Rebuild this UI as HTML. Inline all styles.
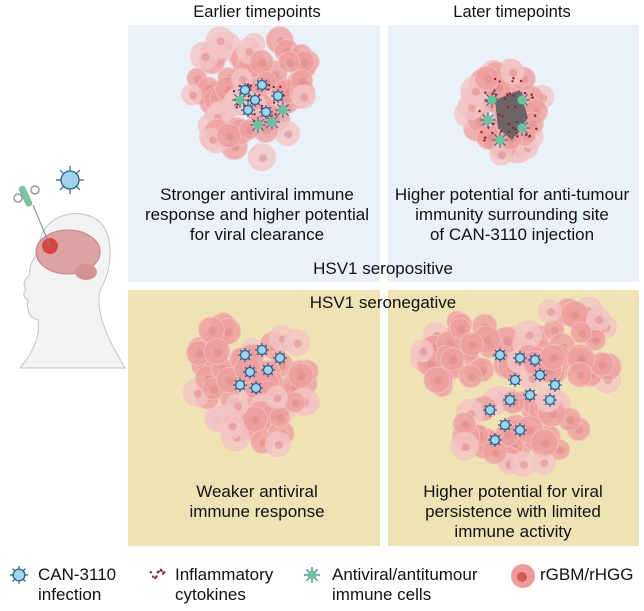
<!DOCTYPE html>
<html><head><meta charset="utf-8"><style>
body{margin:0;background:#fff;width:644px;height:606px;overflow:hidden;font-family:"Liberation Sans",sans-serif}
svg text{font-family:"Liberation Sans",sans-serif;fill:#111}
</style></head><body>
<svg id="s" width="644" height="606" xmlns="http://www.w3.org/2000/svg">
<rect x="128" y="25" width="252" height="257" fill="#ebf1f9"/>
<rect x="388" y="25" width="251" height="257" fill="#ebf1f9"/>
<rect x="128" y="290" width="252" height="256" fill="#efe3b6"/>
<rect x="388" y="290" width="251" height="256" fill="#efe3b6"/>
<g id="tum"></g>
<g font-size="16.5" text-anchor="middle">
<text x="257" y="17">Earlier timepoints</text>
<text x="512" y="17">Later timepoints</text>
</g>
<g font-size="17" text-anchor="middle">
<text x="257" y="200">Stronger antiviral immune</text>
<text x="257" y="220">response and higher potential</text>
<text x="257" y="240">for viral clearance</text>
<text x="512" y="200">Higher potential for anti-tumour</text>
<text x="512" y="220">immunity surrounding site</text>
<text x="512" y="240">of CAN-3110 injection</text>
<text x="383" y="274">HSV1 seropositive</text>
<text x="383" y="308">HSV1 seronegative</text>
<text x="257" y="497">Weaker antiviral</text>
<text x="257" y="517">immune response</text>
<text x="513" y="497">Higher potential for viral</text>
<text x="513" y="517">persistence with limited</text>
<text x="513" y="537">immune activity</text>
</g>
<g font-size="17">
<text x="38" y="580">CAN-3110</text><text x="38" y="600">infection</text>
<text x="175" y="580">Inflammatory</text><text x="175" y="600">cytokines</text>
<text x="332" y="580">Antiviral/antitumour</text><text x="332" y="600">immune cells</text>
<text x="540" y="580">rGBM/rHGG</text>
</g>
<!-- head -->
<g>
<path d="M40 240 C45 215 80 205 100 222 C115 238 112 270 100 290 C97 305 100 320 112 345 L125 368 L20 368 C35 350 40 335 38 320 C30 318 26 312 28 300 C24 298 22 294 26 290 C22 285 25 278 30 275 C28 265 35 258 38 250 Z" fill="#f3f3f3" stroke="#c4c4c4" stroke-width="1"/>
<ellipse cx="68" cy="252" rx="32" ry="22" fill="#dca3a3" stroke="#c08080"/>
<ellipse cx="86" cy="272" rx="11" ry="8" fill="#d49292"/>
<circle cx="50" cy="246" r="8" fill="#d94545"/>
<line x1="50" y1="246" x2="33" y2="205" stroke="#888" stroke-width="1"/>
<rect x="22" y="185" width="7" height="22" rx="3" fill="#7cc3a0" transform="rotate(-25 26 196)"/>
<circle cx="18" cy="198" r="4" fill="none" stroke="#999" stroke-width="1.5"/>
<circle cx="35" cy="190" r="4" fill="none" stroke="#999" stroke-width="1.5"/>
</g>
<g id="leg"></g>
</svg>
<script>
var s=1;function r(){s=(s*16807)%2147483647;return s/2147483647;}
var ns="http://www.w3.org/2000/svg",T=document.getElementById("tum");
function el(n,a,p){var e=document.createElementNS(ns,n);for(var k in a)e.setAttribute(k,a[k]);(p||T).appendChild(e);return e;}
function tumor(cx,cy,rx,ry,n){for(var i=0;i<n;i++){var a=r()*6.283,d=Math.sqrt(r());var x=cx+Math.cos(a)*rx*d,y=cy+Math.sin(a)*ry*d;
el("circle",{cx:x,cy:y,r:10+r()*4,fill:d>0.85?"#f3c6c6":"#ee9f9f",stroke:"#f5c0c0","stroke-width":1,opacity:0.8});
el("circle",{cx:x+1,cy:y+1,r:4,fill:"#de8585",opacity:0.5});}}
function virus(x,y,p,sc){sc=sc||1;for(var i=0;i<8;i++){var a=i*0.785;el("line",{x1:x,y1:y,x2:x+Math.cos(a)*7*sc,y2:y+Math.sin(a)*7*sc,stroke:"#2b5f8a","stroke-width":1.2},p);}
el("circle",{cx:x,cy:y,r:4.5*sc,fill:"#9fd3ee",stroke:"#2b5f8a","stroke-width":1.3},p);}
function imm(x,y,p){for(var i=0;i<8;i++){var a=i*0.785;el("line",{x1:x,y1:y,x2:x+Math.cos(a)*8,y2:y+Math.sin(a)*8,stroke:"#3b6f9a","stroke-width":1.2},p);}
el("circle",{cx:x,cy:y,r:4.5,fill:"#6cc49a"},p);}
function dots(cx,cy,rx,ry,n,p){for(var i=0;i<n;i++){var a=r()*6.283,d=Math.sqrt(r());el("circle",{cx:cx+Math.cos(a)*rx*d,cy:cy+Math.sin(a)*ry*d,r:1.2,fill:"#8a1f2a"},p);}}
tumor(225,85,35,45,30);tumor(280,70,40,40,30);tumor(250,130,40,30,25);
tumor(505,110,40,45,50);
tumor(225,370,35,55,35);tumor(280,375,40,40,30);tumor(260,420,30,30,15);
tumor(470,360,50,50,40);tumor(570,350,50,45,40);tumor(520,430,70,35,40);
dots(258,100,28,22,30);
[[245,90],[262,85],[278,96],[248,110],[266,112],[255,100]].forEach(function(v){virus(v[0],v[1]);});
[[240,100],[258,125],[272,122],[283,110]].forEach(function(v){imm(v[0],v[1]);});
el("path",{d:"M495 100 L520 90 L528 118 L512 140 L498 128 Z",fill:"#6e6466"});
dots(505,112,35,38,45);
[[492,100],[522,100],[488,120],[522,128],[500,140]].forEach(function(v){imm(v[0],v[1]);});
[[245,355],[262,350],[280,358],[250,372],[268,370],[256,388],[240,385]].forEach(function(v){virus(v[0],v[1]);});
[[500,355],[520,358],[540,375],[555,385],[530,395],[510,400],[490,410],[505,425],[520,430],[550,400],[495,440],[515,380],[535,360]].forEach(function(v){virus(v[0],v[1]);});
virus(70,180,null,2);
var L=document.getElementById("leg");
virus(19,575,L,1.3);
dots(158,575,9,7,10,L);
imm(312,575,L);
el("circle",{cx:523,cy:576,r:12,fill:"#ef9b9b"},L);el("circle",{cx:522,cy:577,r:5,fill:"#d45a5a"},L);
</script>
</body></html>
